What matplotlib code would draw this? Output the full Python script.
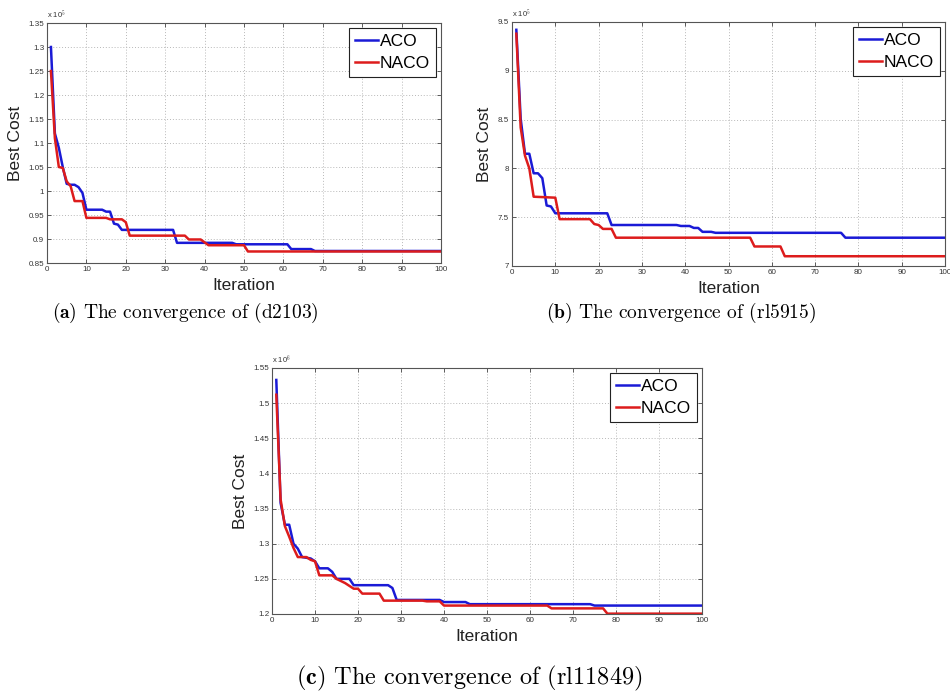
import matplotlib
matplotlib.use('Agg')
import matplotlib.pyplot as plt
from matplotlib.ticker import FuncFormatter, MultipleLocator

# Best cost per iteration.
# Values are in the units shown on the y axis (multiplier in *_exp).

# (a) d2103, x 10^5
a_aco_iter = [1, 2, 3, 4, 5, 6, 7, 8, 9, 10, 14, 15, 16, 17, 18, 19, 32, 33, 47, 48, 61, 62, 67, 68, 100]
a_aco_cost = [1.30, 1.12, 1.09, 1.05, 1.015, 1.013, 1.013, 1.008, 0.996, 0.961, 0.961, 0.957, 0.957,
              0.932, 0.930, 0.919, 0.919, 0.892, 0.892, 0.889, 0.889, 0.879, 0.879, 0.875, 0.875]
a_naco_iter = [1, 2, 3, 4, 5, 6, 7, 9, 10, 15, 16, 19, 20, 21, 35, 36, 39, 41, 50, 51, 100]
a_naco_cost = [1.25, 1.11, 1.05, 1.048, 1.02, 1.01, 0.979, 0.979, 0.944, 0.944, 0.941, 0.941,
               0.935, 0.907, 0.907, 0.899, 0.899, 0.887, 0.887, 0.874, 0.874]
a_exp = 5

# (b) rl5915, x 10^5
b_aco_iter = [1, 2, 3, 4, 5, 6, 7, 8, 9, 10, 22, 23, 38, 39, 41, 42, 43, 44, 46, 47, 76, 77, 100]
b_aco_cost = [9.42, 8.51, 8.15, 8.15, 7.95, 7.95, 7.90, 7.62, 7.61, 7.54, 7.54, 7.42, 7.42, 7.41,
              7.41, 7.39, 7.39, 7.35, 7.35, 7.34, 7.34, 7.29, 7.29]
b_naco_iter = [1, 2, 3, 4, 5, 10, 11, 18, 19, 20, 21, 23, 24, 55, 56, 62, 63, 100]
b_naco_cost = [9.38, 8.42, 8.13, 8.0, 7.71, 7.70, 7.48, 7.48, 7.43, 7.42, 7.38, 7.38, 7.29, 7.29,
               7.20, 7.20, 7.10, 7.10]
b_exp = 5

# (c) rl11849, x 10^6
c_aco_iter = [1, 2, 3, 4, 5, 6, 7, 9, 10, 11, 13, 14, 15, 18, 19, 27, 28, 29, 39, 40, 45, 46, 74, 75, 100]
c_aco_cost = [1.533, 1.358, 1.327, 1.327, 1.300, 1.293, 1.281, 1.279, 1.275, 1.265, 1.265, 1.26,
              1.25, 1.25, 1.241, 1.241, 1.237, 1.220, 1.220, 1.217, 1.217, 1.214, 1.214, 1.212, 1.212]
c_naco_iter = [1, 2, 3, 4, 5, 6, 8, 9, 10, 11, 14, 15, 17, 18, 19, 20, 21, 25, 26, 35, 36, 39, 40,
               64, 65, 77, 78, 100]
c_naco_cost = [1.512, 1.363, 1.325, 1.31, 1.294, 1.281, 1.281, 1.277, 1.275, 1.255, 1.255, 1.25,
               1.244, 1.240, 1.236, 1.236, 1.229, 1.229, 1.219, 1.219, 1.218, 1.218, 1.212, 1.212,
               1.208, 1.208, 1.2005, 1.2005]
c_exp = 6

captions = [r'$\mathbf{(a)}$ The convergence of (d2103)',
            r'$\mathbf{(b)}$ The convergence of (rl5915)',
            r'$\mathbf{(c)}$ The convergence of (rl11849)']

plt.rcParams['font.family'] = ['Liberation Sans', 'DejaVu Sans']
plt.rcParams['mathtext.fontset'] = 'cm'

W, H = 950, 693


def box(left, top, right, bottom):
    # pixel box -> figure fraction [l, b, w, h]
    return [left / W, 1 - bottom / H, (right - left) / W, (bottom - top) / H]


def draw_panel(ax, aco_it, aco_c, naco_it, naco_c, ylo, yhi, ystep, exp):
    ax.plot(aco_it, aco_c, color='#1a1ad6', lw=1.8, label='ACO')
    ax.plot(naco_it, naco_c, color='#dd1c1c', lw=1.8, label='NACO')
    ax.set_xlim(0, 100)
    ax.set_ylim(ylo, yhi)
    ax.xaxis.set_major_locator(MultipleLocator(10))
    ax.yaxis.set_major_locator(MultipleLocator(ystep))
    ax.yaxis.set_major_formatter(FuncFormatter(lambda v, p: '%g' % round(v, 4)))
    ax.grid(True, linestyle=(0, (1, 2)), color='#b8b8b8', lw=0.7)
    ax.tick_params(direction='in', top=True, right=True, length=3, width=0.6,
                   labelsize=5.8, colors='#444444', pad=2)
    ax.tick_params(labelcolor='#333333')
    for s in ax.spines.values():
        s.set_color('#555555')
        s.set_linewidth(0.8)
    ax.set_xlabel('Iteration', fontsize=12.5, color='#222222', labelpad=4)
    ax.set_ylabel('Best Cost', fontsize=12.5, color='#222222', labelpad=4)
    ax.text(0.0, 1.01, r'x 10$^{%d}$' % exp, transform=ax.transAxes, fontsize=5.5,
            color='#333333', ha='left', va='bottom')
    leg = ax.legend(loc='upper right', fontsize=12.5, fancybox=False, framealpha=1,
                    edgecolor='#222222', handlelength=1.3, handletextpad=0.1,
                    borderpad=0.35, labelspacing=0.35, borderaxespad=0.3)
    leg.get_frame().set_linewidth(0.8)


fig = plt.figure(figsize=(W / 100, H / 100), dpi=100)

ax_a = fig.add_axes(box(47, 23, 441, 263))
draw_panel(ax_a, a_aco_iter, a_aco_cost, a_naco_iter, a_naco_cost, 0.85, 1.35, 0.05, a_exp)

ax_b = fig.add_axes(box(512, 22, 945, 266))
draw_panel(ax_b, b_aco_iter, b_aco_cost, b_naco_iter, b_naco_cost, 7.0, 9.5, 0.5, b_exp)

ax_c = fig.add_axes(box(272, 368, 702, 614))
draw_panel(ax_c, c_aco_iter, c_aco_cost, c_naco_iter, c_naco_cost, 1.2, 1.55, 0.05, c_exp)

fig.text(185 / W, 1 - 313 / H, captions[0], family='cmr10', fontsize=14, ha='center', va='center')
fig.text(681 / W, 1 - 313 / H, captions[1], family='cmr10', fontsize=14, ha='center', va='center')
fig.text(469 / W, 1 - 678 / H, captions[2], family='cmr10', fontsize=17.5, ha='center', va='center')

fig.savefig('out.png', dpi=100, facecolor='white')
